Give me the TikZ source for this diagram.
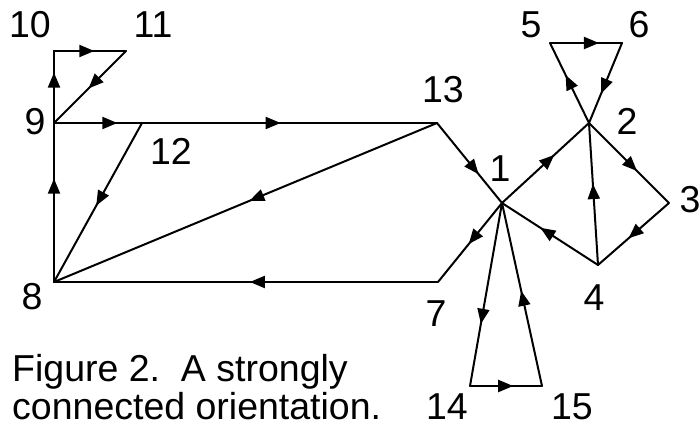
\documentclass[tikz,border=0pt]{standalone}
\usepackage{fontspec}
\setmainfont{Liberation Sans}
\usetikzlibrary{arrows.meta,decorations.markings}
\tikzset{
  edge/.style={line width=2pt,line cap=round,line join=round},
  arr/.style={postaction={decorate},decoration={markings,
     mark=at position #1 with {\arrow{Triangle[length=15pt,width=12pt]}}}},
  lab/.style={anchor=base,inner sep=0pt,font=\fontsize{37.5}{40}\selectfont},
  captext/.style={anchor=base west,inner sep=0pt,font=\fontsize{37.5}{40}\selectfont}
}
\begin{document}
\begin{tikzpicture}[x=1pt,y=-1pt]
\useasboundingbox (0,0) rectangle (699,427);
% vertices
\coordinate (v1) at (502,203);
\coordinate (v2) at (589,123);
\coordinate (v3) at (669,203);
\coordinate (v4) at (598,265);
\coordinate (v5) at (550,43);
\coordinate (v6) at (622,43);
\coordinate (v7) at (438,282);
\coordinate (v8) at (54,282);
\coordinate (v9) at (54,123);
\coordinate (v10) at (54,51);
\coordinate (v11) at (126,51);
\coordinate (v12) at (142,123);
\coordinate (v13) at (437,123);
\coordinate (v14) at (470,386);
\coordinate (v15) at (542,386);
% edges
\draw[edge,arr=0.7] (v9) -- (v10);
\draw[edge,arr=0.56] (v10) -- (v11);
\draw[edge,arr=0.52] (v11) -- (v9);
\draw[edge,arr=0.72] (v9) -- (v12);
\draw[edge,arr=0.47] (v12) -- (v13);
\draw[edge,arr=0.64] (v13) -- (v1);
\draw[edge,arr=0.6] (v1) -- (v2);
\draw[edge,arr=0.6] (v2) -- (v5);
\draw[edge,arr=0.68] (v5) -- (v6);
\draw[edge,arr=0.63] (v6) -- (v2);
\draw[edge,arr=0.6] (v2) -- (v3);
\draw[edge,arr=0.57] (v3) -- (v4);
\draw[edge,arr=0.57] (v4) -- (v2);
\draw[edge,arr=0.6] (v4) -- (v1);
\draw[edge,arr=0.52] (v1) -- (v7);
\draw[edge,arr=0.49] (v7) -- (v8);
\draw[edge,arr=0.65] (v8) -- (v9);
\draw[edge,arr=0.52] (v12) -- (v8);
\draw[edge,arr=0.49] (v13) -- (v8);
\draw[edge,arr=0.66] (v1) -- (v14);
\draw[edge,arr=0.6] (v14) -- (v15);
\draw[edge,arr=0.52] (v15) -- (v1);
% labels
\node[lab] (l1) at (500,182) {1};
\node[lab] (l2) at (627,135) {2};
\node[lab] (l3) at (690,213) {3};
\node[lab] (l4) at (594,311) {4};
\node[lab] (l5) at (531,38) {5};
\node[lab] (l6) at (639,38) {6};
\node[lab] (l7) at (436,327) {7};
\node[lab] (l8) at (32,310) {8};
\node[lab] (l9) at (35,135) {9};
\node[lab] (l10) at (30,38) {10};
\node[lab] (l11) at (153,38) {11};
\node[lab] (l12) at (171,165) {12};
\node[lab] (l13) at (443,103) {13};
\node[lab] (l14) at (447,420) {14};
\node[lab] (l15) at (572,420) {15};
% caption
\node[captext] (c1) at (12,382) {Figure 2.\ \ A strongly};
\node[captext] (c2) at (12,420) {connected orientation.};
\end{tikzpicture}
\end{document}
